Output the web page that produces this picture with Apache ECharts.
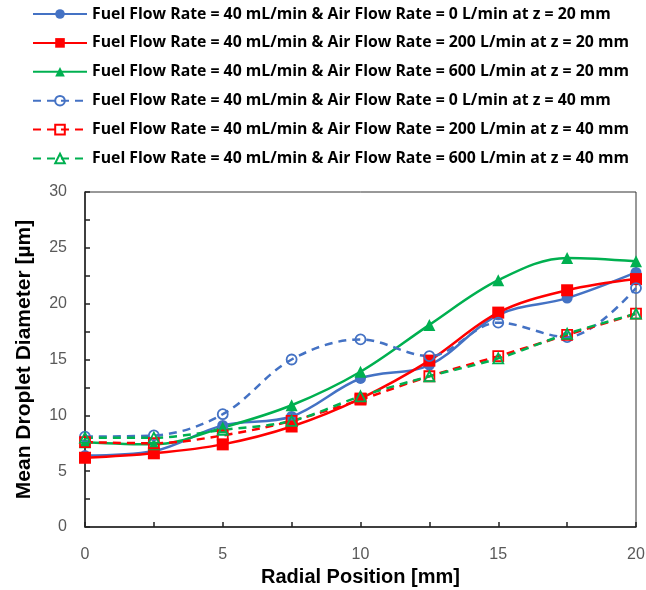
<!DOCTYPE html>
<html>
<head>
<meta charset="utf-8">
<script src="https://cdn.jsdelivr.net/npm/echarts@6/dist/echarts.min.js"></script>
<style>
  html, body { margin: 0; padding: 0; background: #fff; }
  #chart { width: 646px; height: 590px; }
</style>
</head>
<body>
<div id="chart"></div>
<script>
// Radial positions (mm)
const radialPositions = [0, 2.5, 5, 7.5, 10, 12.5, 15, 17.5, 20];

// Mean droplet diameter (µm), fuel flow rate 40 mL/min
const air0_z20   = [6.4, 6.8, 9.1, 9.9, 13.3, 14.5, 19.0, 20.5, 22.8];
const air200_z20 = [6.2, 6.6, 7.4, 9.0, 11.5, 14.9, 19.2, 21.2, 22.2];
const air600_z20 = [7.6, 7.4, 8.9, 10.9, 13.9, 18.1, 22.1, 24.1, 23.8];
const air0_z40   = [8.1, 8.2, 10.1, 15.0, 16.8, 15.3, 18.3, 17.0, 21.4];
const air200_z40 = [7.6, 7.5, 8.2, 9.5, 11.4, 13.5, 15.3, 17.2, 19.1];
const air600_z40 = [8.0, 8.0, 8.7, 9.5, 11.7, 13.5, 15.1, 17.3, 19.1];

const seriesNames = [
  'Fuel Flow Rate = 40 mL/min & Air Flow Rate = 0 L/min at z = 20 mm',
  'Fuel Flow Rate = 40 mL/min & Air Flow Rate = 200 L/min at z = 20 mm',
  'Fuel Flow Rate = 40 mL/min & Air Flow Rate = 600 L/min at z = 20 mm',
  'Fuel Flow Rate = 40 mL/min & Air Flow Rate = 0 L/min at z = 40 mm',
  'Fuel Flow Rate = 40 mL/min & Air Flow Rate = 200 L/min at z = 40 mm',
  'Fuel Flow Rate = 40 mL/min & Air Flow Rate = 600 L/min at z = 40 mm'
];

const BLUE = '#4472C4', RED = '#FF0000', GREEN = '#00B050';

function pairs(values) {
  return radialPositions.map((x, i) => [x, values[i]]);
}

function solidSeries(name, values, color, symbol, size) {
  return {
    name, type: 'line', smooth: 0.35, data: pairs(values),
    symbol, symbolSize: size,
    lineStyle: { color, width: 2.5, type: 'solid' },
    itemStyle: { color, borderColor: color, borderWidth: 0 }
  };
}

function dashedSeries(name, values, color, symbol, size) {
  return {
    name, type: 'line', smooth: 0.35, data: pairs(values),
    symbol, symbolSize: size,
    lineStyle: { color, width: 2.5, type: [8, 6] },
    itemStyle: { color: 'rgba(255,255,255,0)', borderColor: color, borderWidth: 1.8 }
  };
}

const chart = echarts.init(document.getElementById('chart'), null, { renderer: 'canvas' });

const axisText = { color: '#595959', fontSize: 16, fontFamily: 'Liberation Sans' };

chart.setOption({
  animation: false,
  backgroundColor: '#ffffff',
  legend: {
    orient: 'vertical',
    left: 27,
    top: 1,
    itemWidth: 54,
    itemHeight: 12,
    itemGap: 12.9,
    textStyle: { color: '#000', fontSize: 15.8, lineHeight: 16, fontWeight: 'bold', fontFamily: 'Open Sans' },
    data: seriesNames
  },
  grid: {
    left: 85, right: 10, top: 192, bottom: 63,
    outerBoundsMode: 'none',
    show: true, borderColor: '#333', borderWidth: 1
  },
  xAxis: {
    type: 'value', min: 0, max: 20, interval: 5,
    name: 'Radial Position [mm]',
    nameLocation: 'middle', nameGap: 37,
    nameTextStyle: { color: '#000', fontSize: 20, fontWeight: 'bold', fontFamily: 'Liberation Sans' },
    axisLine: { show: true, onZero: false, lineStyle: { color: '#222', width: 1.5 } },
    axisTick: { show: true, inside: true, length: 5, lineStyle: { color: '#222', width: 1.5 } },
    minorTick: { show: true, splitNumber: 2, length: 5, lineStyle: { color: '#222', width: 1.5 } },
    splitLine: { show: false },
    axisLabel: Object.assign({ margin: 20 }, axisText)
  },
  yAxis: {
    type: 'value', min: 0, max: 30, interval: 5,
    name: 'Mean Droplet Diameter [µm]',
    nameLocation: 'middle', nameGap: 50, nameRotate: 90,
    nameTextStyle: { color: '#000', fontSize: 21, fontWeight: 'bold', fontFamily: 'Liberation Sans' },
    axisLine: { show: true, onZero: false, lineStyle: { color: '#222', width: 1.5 } },
    axisTick: { show: true, inside: true, length: 5, lineStyle: { color: '#222', width: 1.5 } },
    minorTick: { show: true, splitNumber: 2, length: 5, lineStyle: { color: '#222', width: 1.5 } },
    splitLine: { show: false },
    axisLabel: Object.assign({ margin: 18 }, axisText)
  },
  series: [
    solidSeries(seriesNames[0], air0_z20, BLUE, 'circle', 11),
    solidSeries(seriesNames[1], air200_z20, RED, 'rect', 12),
    solidSeries(seriesNames[2], air600_z20, GREEN, 'triangle', 12),
    dashedSeries(seriesNames[3], air0_z40, BLUE, 'circle', 10),
    dashedSeries(seriesNames[4], air200_z40, RED, 'rect', 10),
    dashedSeries(seriesNames[5], air600_z40, GREEN, 'triangle', 10)
  ]
});
</script>
</body>
</html>
